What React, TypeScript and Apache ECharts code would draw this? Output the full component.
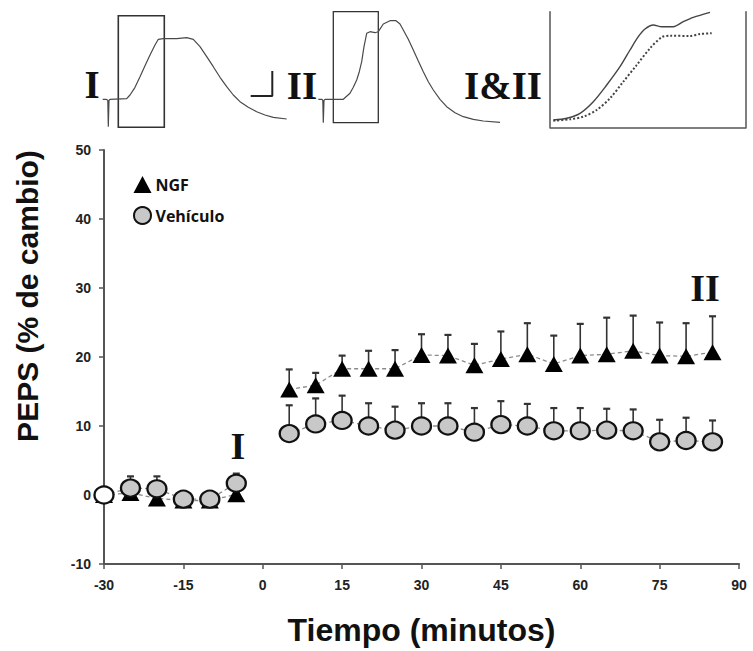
import React, { useEffect, useRef } from "react";
import * as echarts from "echarts";

// Time points (minutes) relative to NGF / vehicle application
const timePoints = [-30, -25, -20, -15, -10, -5, 5, 10, 15, 20, 25, 30, 35, 40, 45, 50, 55, 60, 65, 70, 75, 80, 85];

// EPSP change (%), mean and SEM
const ngfMean = [0, 0.3, -0.5, -0.8, -0.8, 0.1, 15.3, 15.9, 18.3, 18.3, 18.3, 20.3, 20.2, 18.8, 19.7, 20.4, 19.0, 20.2, 20.4, 20.9, 20.2, 20.1, 20.7];
const ngfSem = [0.4, 0.4, 0.4, 0.4, 0.4, 0.4, 2.9, 1.8, 1.9, 2.6, 2.7, 3.0, 3.0, 3.1, 4.0, 4.5, 4.1, 4.6, 5.3, 5.1, 4.8, 4.8, 5.2];
const vehMean = [0, 1.0, 0.9, -0.6, -0.6, 1.7, 8.9, 10.3, 10.8, 10.0, 9.4, 10.0, 10.0, 9.1, 10.2, 10.0, 9.3, 9.3, 9.4, 9.3, 7.7, 7.9, 7.7];
const vehSem = [0.5, 1.7, 1.8, 1.0, 1.0, 1.4, 4.1, 3.7, 3.6, 3.3, 3.4, 3.3, 3.3, 3.5, 3.4, 3.2, 3.3, 3.3, 3.1, 3.1, 3.2, 3.3, 3.1];

const xTicks = { min: -30, max: 90, interval: 15 };
const yTicks = { min: -10, max: 50, interval: 10 };

// Example EPSP traces (sample index, amplitude in arbitrary units)
const traceI = [[2.7, 0], [6, 0], [7.8, -1], [8.3, -27.4], [9, -1], [10, 0], [26.7, 0.6], [30, 4.3], [35, 12], [40, 22.6], [45, 33.6], [50, 44.3], [55, 54.3], [58.3, 60], [63.3, 60.6], [76.7, 60.6], [86.7, 61.6], [93.3, 60], [100, 52.6], [106.7, 42.6], [113.3, 32.6], [120, 22], [126.7, 12.6], [133.3, 4.3], [140, -2.4], [148.3, -8], [156.7, -12.4], [165, -15.7], [173.3, -18], [186.7, -19.7]];
const traceII = [[8.3, 0], [12, 0], [12.8, -1], [13.3, -23.4], [14, -1], [15, 0], [33.3, 0], [40, 6], [43.3, 12], [46.7, 19.3], [49.3, 27.6], [51.7, 37.6], [54, 52.6], [56.7, 66], [60, 67.6], [65, 66.6], [68.3, 67.6], [73.3, 75.3], [80, 78.6], [86, 78.6], [90, 75.3], [93.3, 69.3], [98.3, 60], [103.3, 49.3], [108.3, 38.3], [113.3, 27.6], [118.3, 17.6], [123.3, 9.3], [130, 0], [136.7, -7.4], [145, -13.4], [153.3, -17.4], [163.3, -20], [173.3, -21.7], [190, -23]];
const scaleBar = [[172.3, 28.3], [172.3, 3.3], [150.7, 3.3]];
// Boxed rising phase windows [x0, yTop, x1, yBottom]
const windowI = [18.3, 83.6, 64.3, -28];
const windowII = [23.3, 87.6, 68.3, -23.4];
// Overlay of the boxed rising phases
const overlayII = [[3.3, 7.3], [16.7, 9], [30, 14], [43.3, 25.6], [56.7, 42.3], [70, 60.6], [80, 77.3], [88.3, 90.6], [95, 98.3], [103.3, 102.3], [111.7, 100.6], [123.3, 100.6], [133.3, 105.6], [143.3, 110], [160, 115]];
const overlayI = [[3.3, 6.6], [20, 8], [33.3, 10.6], [46.7, 17.3], [60, 29], [73.3, 45.6], [86.7, 62.3], [100, 79], [111.7, 90], [120, 91.6], [140, 91.3], [150, 93.3], [161.7, 94]];

const seriesNames = ["NGF", "Vehículo"];

function withGap(means: number[]) {
  const out: any[] = [];
  timePoints.forEach((t, i) => {
    if (i > 0 && timePoints[i - 1] < 0 && t > 0) out.push([0, "-"]);
    out.push([t, means[i]]);
  });
  return out;
}

function errorData(means: number[], sems: number[]) {
  return timePoints.map((t, i) => [t, means[i], sems[i]]);
}

const errorRender = (params: any, api: any) => {
  const t = api.value(0);
  const m = api.value(1);
  const s = api.value(2);
  const base = api.coord([t, m]);
  const top = api.coord([t, m + s]);
  return {
    type: "group",
    children: [
      { type: "line", shape: { x1: base[0], y1: base[1], x2: top[0], y2: top[1] }, style: { stroke: "#333", lineWidth: 1.6 } },
      { type: "line", shape: { x1: top[0] - 3.5, y1: top[1], x2: top[0] + 3.5, y2: top[1] }, style: { stroke: "#333", lineWidth: 2.2 } },
    ],
  };
};

const serif = "'Liberation Serif', 'DejaVu Serif', serif";
const sans = "'Liberation Sans', Arial, sans-serif";

export default function App() {
  const ref = useRef<HTMLDivElement>(null);

  useEffect(() => {
    if (!ref.current) return;
    const chart = echarts.init(ref.current, undefined, { renderer: "svg" });

    const hiddenAxis = (grid: number, min: number, max: number) => ({
      type: "value",
      gridIndex: grid,
      min,
      max,
      show: false,
    });

    const frameAxis = (grid: number, min: number, max: number, extra: any = {}) => ({
      type: "value",
      gridIndex: grid,
      min,
      max,
      axisLine: { show: true, onZero: false, lineStyle: { color: "#555", width: 1.5 } },
      axisTick: { show: false },
      axisLabel: { show: false },
      splitLine: { show: false },
      ...extra,
    });

    const vehData = withGap(vehMean).map((d, i) =>
      i === 0 ? { value: d, itemStyle: { color: "#ffffff" } } : d
    );

    const option: any = {
      animation: false,
      backgroundColor: "#ffffff",
      grid: [
        { left: 104, right: 14, top: 150, bottom: 85 },
        { left: 100, top: 9.3, width: 190, height: 120 },
        { left: 310, top: 9.3, width: 200, height: 120 },
        { left: 550, top: 11.7, width: 196, height: 115.6 },
      ],
      xAxis: [
        {
          type: "value",
          gridIndex: 0,
          min: xTicks.min,
          max: xTicks.max,
          interval: xTicks.interval,
          splitLine: { show: false },
          axisLine: { onZero: false, lineStyle: { color: "#555", width: 2 } },
          axisTick: { length: 5, lineStyle: { color: "#555", width: 1.5 } },
          axisLabel: { color: "#222", fontFamily: sans, fontWeight: "bold", fontSize: 14, margin: 14 },
          name: "Tiempo (minutos)",
          nameLocation: "middle",
          nameGap: 50,
          nameTextStyle: { color: "#111", fontFamily: sans, fontWeight: "bold", fontSize: 32 },
        },
        hiddenAxis(1, 0, 190),
        hiddenAxis(2, 0, 200),
        frameAxis(3, 0, 196),
      ],
      yAxis: [
        {
          type: "value",
          gridIndex: 0,
          min: yTicks.min,
          max: yTicks.max,
          interval: yTicks.interval,
          splitLine: { show: false },
          axisLine: { show: true, onZero: false, lineStyle: { color: "#555", width: 2 } },
          axisTick: { show: true, length: 5, lineStyle: { color: "#555", width: 1.5 } },
          axisLabel: { color: "#222", fontFamily: sans, fontWeight: "bold", fontSize: 14, margin: 13 },
        },
        hiddenAxis(1, -30, 90),
        hiddenAxis(2, -30, 90),
        frameAxis(3, 0, 115.6),
        frameAxis(3, 0, 115.6, { position: "right" }),
      ],
      legend: {
        data: [
          { name: seriesNames[0], icon: "triangle" },
          { name: seriesNames[1], icon: "circle" },
        ],
        orient: "vertical",
        left: 128,
        top: 171,
        itemWidth: 18,
        itemHeight: 17,
        itemGap: 13,
        selectedMode: false,
        textStyle: { color: "#111", fontFamily: "'Open Sans', sans-serif", fontWeight: 700, fontSize: 16, padding: [0, 0, 0, -1] },
      },
      series: [
        {
          type: "custom",
          xAxisIndex: 0,
          yAxisIndex: 0,
          z: 1,
          silent: true,
          renderItem: errorRender,
          encode: { x: 0, y: 1 },
          data: errorData(ngfMean, ngfSem),
        },
        {
          type: "custom",
          xAxisIndex: 0,
          yAxisIndex: 0,
          z: 1,
          silent: true,
          renderItem: errorRender,
          encode: { x: 0, y: 1 },
          data: errorData(vehMean, vehSem),
        },
        {
          name: seriesNames[0],
          type: "line",
          xAxisIndex: 0,
          yAxisIndex: 0,
          z: 3,
          data: withGap(ngfMean),
          symbol: "triangle",
          symbolSize: [18, 16],
          showAllSymbol: true,
          itemStyle: { color: "#000" },
          lineStyle: { color: "#8a8a8a", width: 1.3, type: [4, 3] },
        },
        {
          name: seriesNames[1],
          type: "line",
          xAxisIndex: 0,
          yAxisIndex: 0,
          z: 4,
          data: vehData,
          symbol: "circle",
          symbolSize: [19, 17],
          showAllSymbol: true,
          itemStyle: { color: "#c8c8c8", borderColor: "#111", borderWidth: 2.2 },
          lineStyle: { color: "#8a8a8a", width: 1.3, type: [4, 3] },
        },
        {
          type: "line",
          xAxisIndex: 1,
          yAxisIndex: 1,
          data: traceI,
          symbol: "none",
          silent: true,
          lineStyle: { color: "#4a4a4a", width: 1.2 },
          markArea: {
            silent: true,
            itemStyle: { color: "rgba(0,0,0,0)", borderColor: "#333", borderWidth: 1.6 },
            data: [[{ coord: [windowI[0], windowI[1]] }, { coord: [windowI[2], windowI[3]] }]],
          },
        },
        {
          type: "line",
          xAxisIndex: 1,
          yAxisIndex: 1,
          data: scaleBar,
          symbol: "none",
          silent: true,
          lineStyle: { color: "#222", width: 2 },
        },
        {
          type: "line",
          xAxisIndex: 2,
          yAxisIndex: 2,
          data: traceII,
          symbol: "none",
          silent: true,
          lineStyle: { color: "#4a4a4a", width: 1.2 },
          markArea: {
            silent: true,
            itemStyle: { color: "rgba(0,0,0,0)", borderColor: "#333", borderWidth: 1.3 },
            data: [[{ coord: [windowII[0], windowII[1]] }, { coord: [windowII[2], windowII[3]] }]],
          },
        },
        {
          type: "line",
          xAxisIndex: 3,
          yAxisIndex: 3,
          data: overlayII,
          symbol: "none",
          smooth: 0.3,
          silent: true,
          lineStyle: { color: "#444", width: 1.4 },
        },
        {
          type: "line",
          xAxisIndex: 3,
          yAxisIndex: 3,
          data: overlayI,
          symbol: "none",
          smooth: 0.3,
          silent: true,
          lineStyle: { color: "#444", width: 2, type: [2, 2] },
        },
      ],
      graphic: [
        {
          type: "text",
          x: 27,
          y: 296,
          rotation: Math.PI / 2,
          style: {
            text: "PEPS (% de cambio)",
            font: `bold 30px ${sans}`,
            fill: "#111",
            align: "center",
            verticalAlign: "middle",
          },
        },
        { type: "text", x: 238, y: 446, style: { text: "I", font: `bold 38px ${serif}`, fill: "#111", align: "center", verticalAlign: "middle" } },
        { type: "text", x: 705, y: 288, style: { text: "II", font: `bold 38px ${serif}`, fill: "#111", align: "center", verticalAlign: "middle" } },
        { type: "text", x: 92, y: 84, style: { text: "I", font: `bold 39px ${serif}`, fill: "#111", align: "center", verticalAlign: "middle" } },
        { type: "text", x: 302, y: 85, style: { text: "II", font: `bold 39px ${serif}`, fill: "#111", align: "center", verticalAlign: "middle" } },
        { type: "text", x: 503, y: 85, style: { text: "I&II", font: `bold 39px ${serif}`, fill: "#111", align: "center", verticalAlign: "middle" } },
      ],
    };

    chart.setOption(option);
    return () => chart.dispose();
  }, []);

  return (
    <div
      ref={ref}
      style={{ position: "fixed", left: 0, top: 0, width: 753, height: 651, background: "#fff" }}
    />
  );
}
